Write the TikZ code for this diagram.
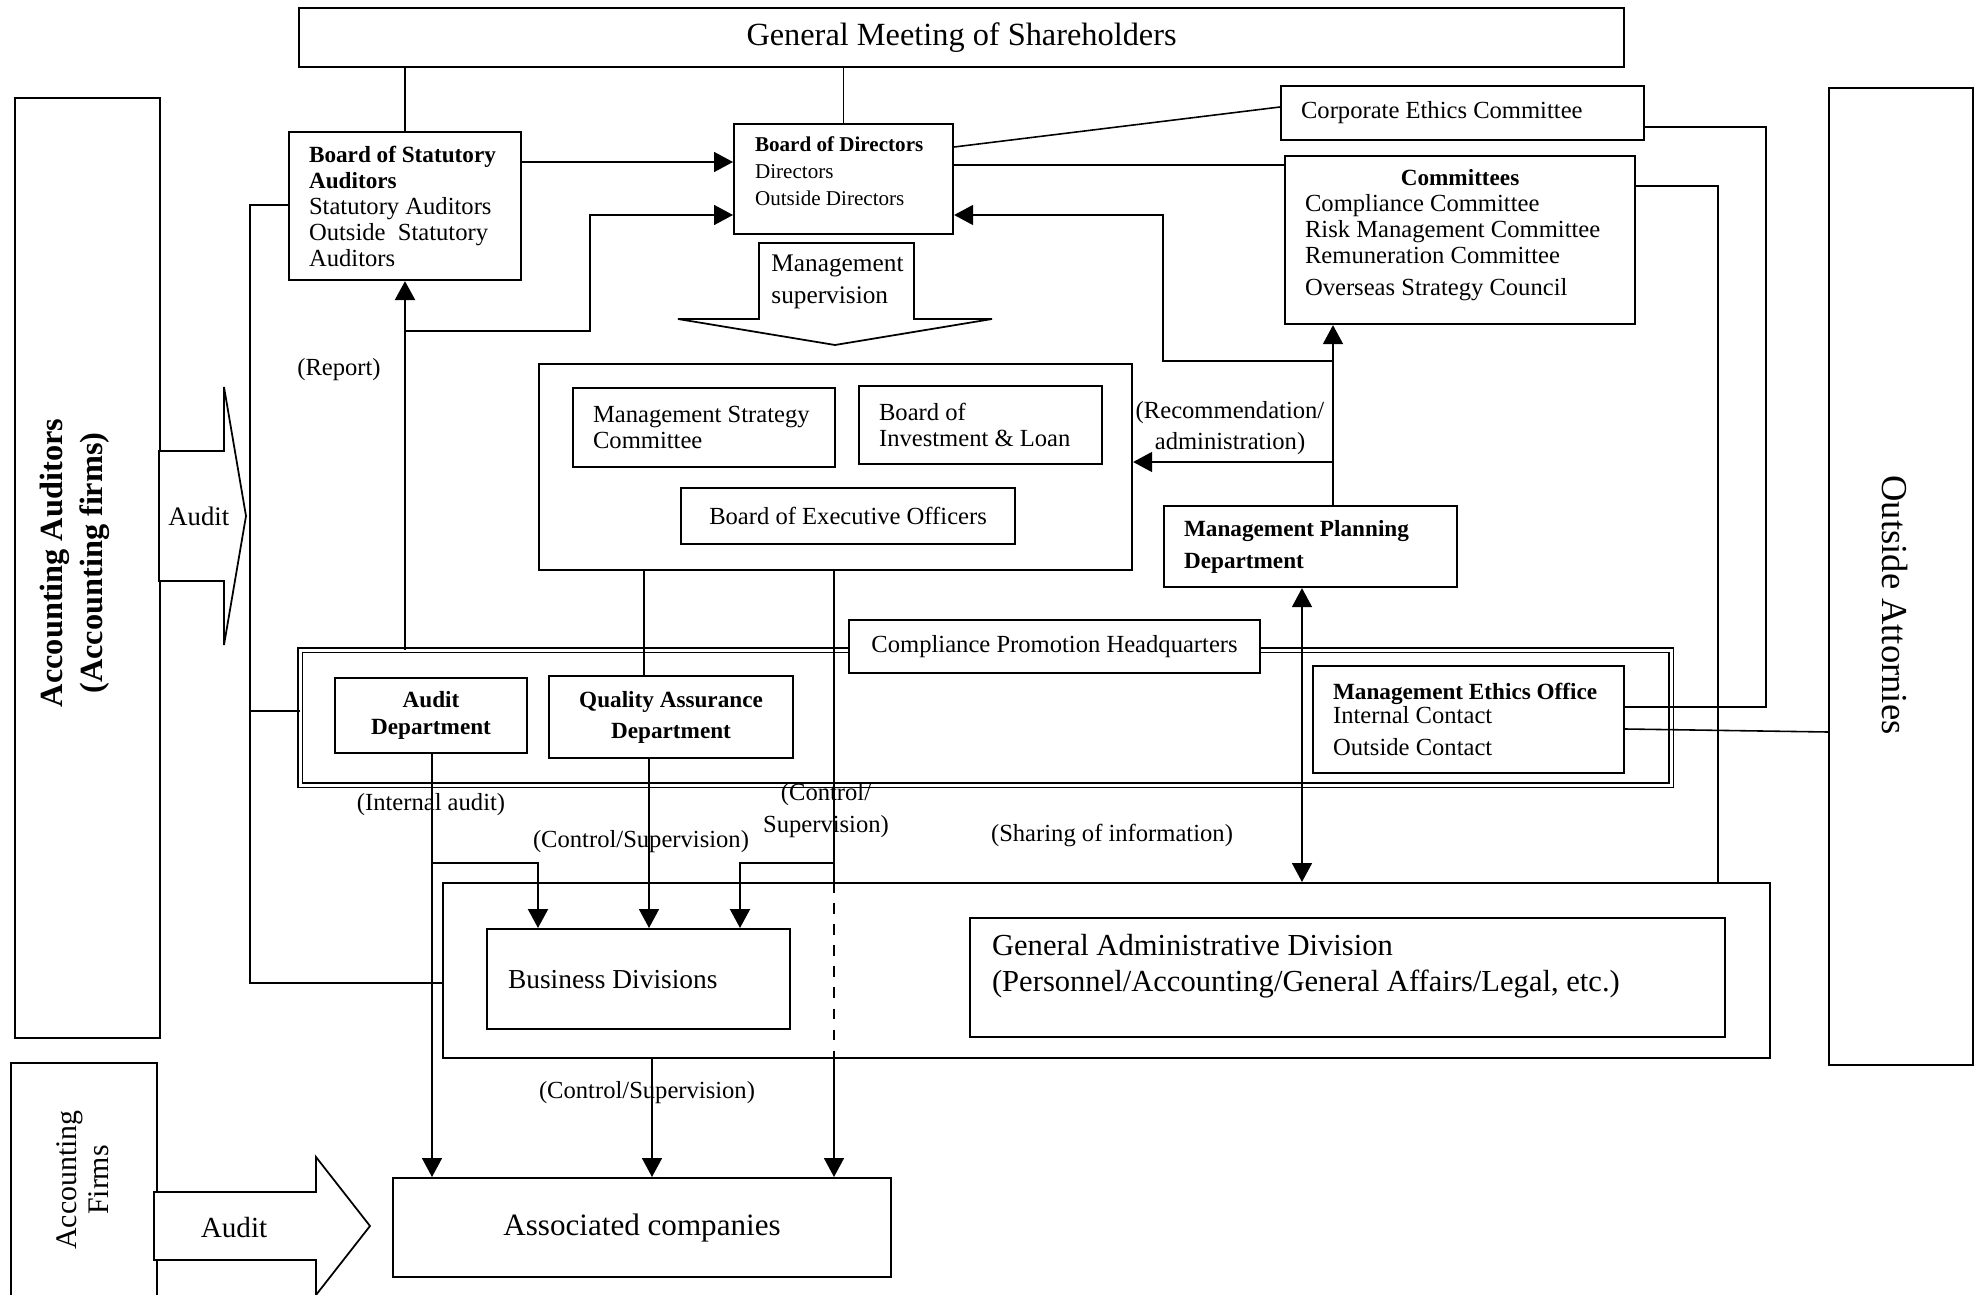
\documentclass[tikz,border=0pt]{standalone}
\usepackage{fontspec}
\setmainfont{Liberation Serif}
\usetikzlibrary{arrows.meta}
\usetikzlibrary{positioning}

\newcommand{\bhead}[1]{{\fontsize{6.6}{7.4}\selectfont\bfseries #1}}

\begin{document}
\begin{tikzpicture} [
  x=0.1mm, y=-0.1mm,
  every node/.style={font=\fontsize{7}{7.4}\selectfont},
  box/.style={draw, line width=0.6pt, fill=white, inner sep=0pt, anchor=north west},
  link/.style={line width=0.45pt},
  arr/.style={link, -{Triangle[length=1.9mm,width=2mm]}},
  both/.style={link, {Triangle[length=1.9mm,width=2mm]}-{Triangle[length=1.9mm,width=2mm]}},
  bigarrow/.style={draw, line width=0.5pt, fill=white}
  ]
  \useasboundingbox (0,0) rectangle (1975,1295);

  % outer parties
  \node [box, minimum width=132.5mm, minimum height=5.9mm] (gms) at (298,7)
    {\fontsize{9.2}{11}\selectfont General Meeting of Shareholders};
  \node [box, minimum width=14.5mm, minimum height=94mm] (aa) at (14,97) {};
  \node [box, minimum width=14.6mm, minimum height=25mm] (af) at (10,1062) {};
  \node [box, minimum width=14.4mm, minimum height=97.7mm] (oa) at (1828,87) {};
  \node [rotate=90, align=center, font=\fontsize{9.2}{11.4}\selectfont\bfseries] (aatxt) at (75,563)
    {Accounting Auditors\\(Accounting firms)};
  \node [rotate=90, align=center, font=\fontsize{8.5}{9.1}\selectfont] (aftxt) at (83,1180)
    {Accounting\\Firms};
  \node [rotate=-90, font=\fontsize{10.4}{12}\selectfont] (oatxt) at (1895,605) {Outside Attornies};

  % audit arrows
  \draw [bigarrow] (159,451) -- (224,451) -- (224,387) -- (246,516) -- (224,645) -- (224,581) -- (159,581) -- cycle;
  \node [anchor=west, font=\fontsize{7.6}{9}\selectfont] (audtxt) at (156,516) {Audit};
  \draw [bigarrow] (154,1192) -- (316,1192) -- (316,1157) -- (370,1226) -- (316,1295) -- (316,1260) -- (154,1260) -- cycle;
  \node [font=\fontsize{8.3}{9}\selectfont] (audtxtb) at (234,1228) {Audit};

  % board level
  \node [box, minimum width=23.2mm, minimum height=14.8mm, text width=19.2mm, align=flush left] (bsa) at (288,131)
    {\bhead{Board of Statutory}\\\bhead{Auditors}\\Statutory Auditors\\Outside\ \ Statutory\\Auditors};
  \node [box, minimum width=21.9mm, minimum height=11mm, text width=17.7mm, align=flush left,
    font=\fontsize{6}{7.7}\selectfont] (bod) at (733,123)
    {\textbf{Board of Directors}\\Directors\\Outside Directors\par\kern1.6mm};
  \node [box, minimum width=36.3mm, minimum height=5.4mm, text width=32.3mm, align=flush left] (cec) at (1280,85)
    {Corporate Ethics Committee};
  \node [box, minimum width=35mm, minimum height=16.8mm, text width=31mm, align=flush left] (com) at (1284,155)
    {\hfill\bhead{Committees}\hfill\mbox{}\\Compliance Committee\\Risk Management Committee\\Remuneration Committee\\[0.6mm]Overseas Strategy Council\par\kern1mm};

  \draw [bigarrow] (759,243) -- (914,243) -- (914,319) -- (992,319) -- (835,345) -- (678,319) -- (759,319) -- cycle;
  \node [anchor=west, align=left, font=\fontsize{7.2}{9.1}\selectfont] (msuptxt) at (759,282) {Management\\supervision};

  % executive level
  \node [box, minimum width=59.3mm, minimum height=20.6mm] (exec) at (538,363) {};
  \node [box, minimum width=26.2mm, minimum height=7.9mm, text width=22.2mm, align=flush left] (msc) at (572,387)
    {Management Strategy\\Committee};
  \node [box, minimum width=24.3mm, minimum height=7.8mm, text width=20.3mm, align=flush left] (boi) at (858,385)
    {Board of\\Investment \& Loan};
  \node [box, minimum width=33.4mm, minimum height=5.6mm] (beo) at (680,487) {Board of Executive Officers};
  \node [box, minimum width=29.3mm, minimum height=8.1mm, text width=25.3mm, align=flush left,
    font=\fontsize{6.6}{9.1}\selectfont] (mpd) at (1163,505)
    {\bhead{Management Planning}\\\bhead{Department}};

  % compliance promotion
  \node [box, double, double distance=0.3mm, line width=0.4pt, minimum width=137.1mm, minimum height=13.5mm] (cph) at (299.5,649.5) {};
  \node [box, minimum width=41.1mm, minimum height=5.3mm] (cphl) at (848,619) {Compliance Promotion Headquarters};
  \node [box, minimum width=19.2mm, minimum height=7.5mm, align=center, font=\fontsize{6.6}{7.7}\selectfont] (aud) at (334,677)
    {\bhead{Audit}\\\bhead{Department}};
  \node [box, minimum width=24.4mm, minimum height=8.2mm, align=center, font=\fontsize{6.6}{8.8}\selectfont] (qa) at (548,675)
    {\bhead{Quality Assurance}\\\bhead{Department}};
  \node [box, minimum width=31.1mm, minimum height=10.7mm, text width=27.1mm, align=flush left,
    font=\fontsize{7}{6.8}\selectfont] (meo) at (1312,665)
    {\bhead{Management Ethics Office}\\Internal Contact\\[0.9mm]Outside Contact};

  % divisions
  \node [box, minimum width=132.7mm, minimum height=17.5mm] (bus) at (442,882) {};
  \node [box, minimum width=30.3mm, minimum height=10mm, text width=26.1mm, align=flush left,
    font=\fontsize{7.8}{9}\selectfont] (bd) at (486,928) {Business Divisions};
  \node [box, minimum width=75.5mm, minimum height=11.9mm, text width=71.1mm, align=flush left,
    font=\fontsize{8.7}{10.2}\selectfont] (gad) at (969,917)
    {General Administrative Division\\(Personnel/Accounting/General Affairs/Legal, etc.)\par\kern2.3mm};
  \node [box, minimum width=49.8mm, minimum height=9.9mm, font=\fontsize{8.85}{10}\selectfont] (asc) at (392,1177)
    {Associated companies};

  % connectors
  \draw [link] (bsa.north) -- (bsa.north |- gms.south);
  \draw [link] (bod.north) -- (bod.north |- gms.south);
  \draw [arr] (bsa.east |- 0,162) -- (bod.west |- 0,162);
  \coordinate (rep) at (405,331);
  \draw [arr, line width=0.7pt] (cph.north -| rep) -- (bsa.south -| rep);
  \draw [arr] (rep) -| (590,215) -- (bod.west |- 0,215);
  \draw [link] (bod.east |- 0,147) -- (cec.west |- 0,107);
  \draw [link] (bod.east |- 0,165) -- (com.west |- 0,165);
  \coordinate (rec) at (1333,361);
  \coordinate (recb) at (1333,462);
  \draw [arr] (mpd.north -| rec) -- (com.south -| rec);
  \draw [arr] (rec) -| (1163,215) -- (bod.east |- 0,215);
  \draw [arr] (recb) -- (exec.east |- recb);
  \draw [both] (mpd.south -| 1302,0) -- (bus.north -| 1302,0);
  \draw [link] (cec.east |- 0,127) -| (1766,707) -- (meo.east |- 0,707);
  \draw [link] (meo.east |- 0,729) -- (oa.west |- 0,732);
  \draw [link] (com.east |- 0,186) -| (bus.north -| 1718,0);
  \draw [link] (bsa.west |- 0,205) -| (250,983) -- (bus.west |- 0,983);
  \draw [link] (250,711) -- (cph.west |- 0,711);
  \draw [link] (exec.south -| 644,0) -- (qa.north -| 644,0);
  \draw [arr] (qa.south -| 649,0) -- (bd.north -| 649,0);
  \coordinate (ia) at (432,863);
  \draw [arr] (aud.south -| ia) -- (asc.north -| ia);
  \draw [arr, line width=0.6pt] (ia) -| (bd.north -| 538,0);
  \coordinate (cs) at (834,863);
  \draw [link] (exec.south -| cs) -- (bus.north -| cs);
  \draw [link, dashed] (bus.north -| cs) -- (bus.south -| cs);
  \draw [arr] (bus.south -| cs) -- (asc.north -| cs);
  \draw [arr, line width=0.6pt] (cs) -| (bd.north -| 740,0);
  \draw [arr] (bus.south -| 652,0) -- (asc.north -| 652,0);

  % labels
  \node (lrep) at (339,370) {(Report)};
  \node [align=center, font=\fontsize{7}{8.8}\selectfont] (lrec) at (1230,428) {(Recommendation/\\administration)};
  \node (lshare) at (1112,835) {(Sharing of information)};
  \node (lia) at (431,805) {(Internal audit)};
  \node (lcs) at (641,842) {(Control/Supervision)};
  \node [align=center, font=\fontsize{7}{9.1}\selectfont] (lcsb) at (826,811) {(Control/\\Supervision)};
  \node (lcsc) at (647,1093) {(Control/Supervision)};
\end{tikzpicture}
\end{document}
